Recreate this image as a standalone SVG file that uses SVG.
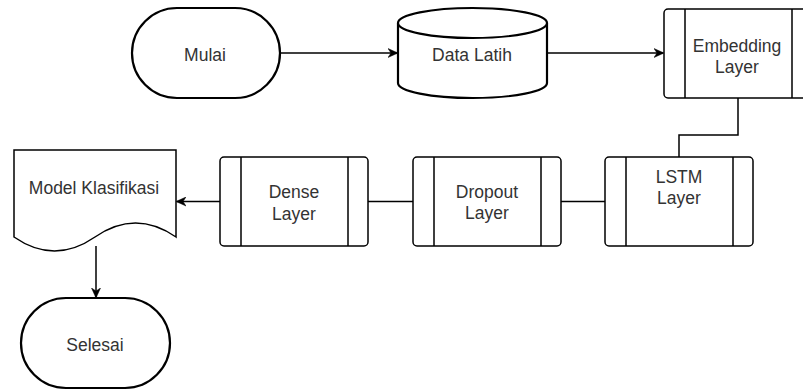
<svg xmlns="http://www.w3.org/2000/svg" width="803" height="390" viewBox="0 0 803 390">
<style>
.t{font-family:"Liberation Sans",Arial,sans-serif;font-size:17.5px;fill:#333;text-anchor:middle}
.thick{fill:#fff;stroke:#000;stroke-width:2.2}
.box{fill:#fff;stroke:#000;stroke-width:1.5}
.ln{fill:none;stroke:#000;stroke-width:1.5}
.edge{fill:none;stroke:#000;stroke-width:1.5}
</style>
<defs>
<marker id="arr" markerUnits="userSpaceOnUse" viewBox="0 0 10 10" refX="9" refY="5" markerWidth="10" markerHeight="10" orient="auto">
<path d="M0,0.5 L10,5 L0,9.5 L3,5 Z" fill="#000" stroke="#000" stroke-width="0.5"/>
</marker>
</defs>
<rect width="803" height="390" fill="#fff"/>
<g id="connectors">
<path class="edge" d="M281,53 H397" marker-end="url(#arr)"/>
<path class="edge" d="M548,53 H663" marker-end="url(#arr)"/>
<path class="edge" d="M738,98 V135 H679 V157"/>
<path class="edge" d="M605,201.5 H561"/>
<path class="edge" d="M413,201.5 H368"/>
<path class="edge" d="M220,201.5 H177" marker-end="url(#arr)"/>
<path class="edge" d="M96,246 V297" marker-end="url(#arr)"/>
</g>
<g id="mulai">
<rect class="thick" x="132" y="8" width="148" height="90" rx="45" ry="45"/>
<text class="t" x="205" y="60.5">Mulai</text>
</g>
<g id="data-latih">
<path class="thick" d="M398,23 A74.5,15 0 0 1 547,23 V83 A74.5,15 0 0 1 398,83 Z"/>
<path class="thick" fill="none" d="M398,23 A74.5,15 0 0 0 547,23"/>
<text class="t" x="472" y="60.5">Data Latih</text>
</g>
<g id="embedding">
<rect class="box" x="664" y="9" width="149" height="89" rx="4"/>
<path class="ln" d="M685,9 V98 M792,9 V98"/>
<text class="t" x="737" y="52">Embedding</text>
<text class="t" x="737" y="72.5">Layer</text>
</g>
<g id="lstm">
<rect class="box" x="605" y="157" width="148" height="89" rx="4"/>
<path class="ln" d="M626,157 V246 M733,157 V246"/>
<text class="t" x="679" y="183">LSTM</text>
<text class="t" x="679" y="204">Layer</text>
</g>
<g id="dropout">
<rect class="box" x="413" y="157" width="148" height="89" rx="4"/>
<path class="ln" d="M434,157 V246 M541,157 V246"/>
<text class="t" x="487" y="198">Dropout</text>
<text class="t" x="487" y="219">Layer</text>
</g>
<g id="dense">
<rect class="box" x="220" y="157" width="148" height="89" rx="4"/>
<path class="ln" d="M241,157 V246 M348,157 V246"/>
<text class="t" x="294" y="198">Dense</text>
<text class="t" x="294" y="219.5">Layer</text>
</g>
<g id="model">
<path class="box" d="M14,150 H176 V237 Q135.5,209 95,237 Q54.5,265 14,237 Z"/>
<text class="t" x="94" y="194">Model Klasifikasi</text>
</g>
<g id="selesai">
<rect class="thick" x="21" y="298" width="149" height="90" rx="45" ry="45"/>
<text class="t" x="95" y="350.5">Selesai</text>
</g>
</svg>
